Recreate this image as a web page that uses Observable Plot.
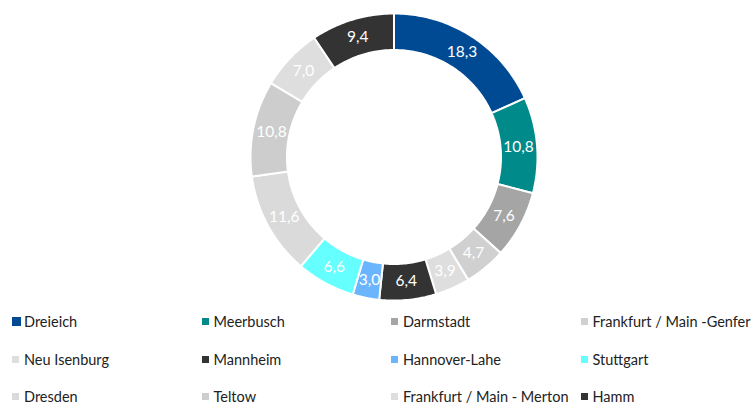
<!DOCTYPE html>
<html>
<head>
<meta charset="utf-8">
<script src="https://cdn.jsdelivr.net/npm/d3@7"></script>
<script src="https://cdn.jsdelivr.net/npm/@observablehq/plot@0.6"></script>
<style>
  html, body { margin: 0; padding: 0; background: #fff; }
  #wrap { width: 755px; height: 406px; position: relative; overflow: hidden; font-family: Lato, "Open Sans", sans-serif; }
  #legend { display: grid; grid-template-columns: repeat(4, 189.5px); grid-auto-rows: 37.5px; padding-left: 12px; }
  .item { display: flex; align-items: center; font-size: 14.5px; color: #222; white-space: nowrap; }
  .sw { width: 7px; height: 7px; margin-right: 5px; flex: none; }
</style>
</head>
<body>
<div id="wrap"><div id="chart"></div><div id="legend"></div></div>
<script>
const names = ["Dreieich", "Meerbusch", "Darmstadt", "Frankfurt / Main -Genfer", "Neu Isenburg", "Mannheim", "Hannover-Lahe", "Stuttgart", "Dresden", "Teltow", "Frankfurt / Main - Merton", "Hamm"];
const values = [18.3, 10.8, 7.6, 4.7, 3.9, 6.4, 3.0, 6.6, 11.6, 10.8, 7.0, 9.4];
const labels = ["18,3", "10,8", "7,6", "4,7", "3,9", "6,4", "3,0", "6,6", "11,6", "10,8", "7,0", "9,4"];
const colors = ["#004A94", "#008A8A", "#A5A5A5", "#D0D0D0", "#DEDEDE", "#333333", "#6BB5FF", "#66FFFF", "#DADADA", "#CDCDCD", "#DEDEDE", "#333333"];

const W = 755, H = 303, cx = 393.5, cy = 156.5;
const rOuter = 143.5, rInner = 107, rLabel = 125;
const total = d3.sum(values);

// build slice polygons from cumulative values
const polys = [];
const texts = [];
let cum = 0;
values.forEach((v, i) => {
  const a0 = cum / total * 2 * Math.PI;
  cum += v;
  const a1 = cum / total * 2 * Math.PI;
  const n = Math.max(8, Math.ceil((a1 - a0) * 60));
  const pts = [];
  for (let k = 0; k <= n; k++) {
    const a = a0 + (a1 - a0) * k / n;
    pts.push({name: names[i], x: rOuter * Math.sin(a), y: rOuter * Math.cos(a)});
  }
  for (let k = n; k >= 0; k--) {
    const a = a0 + (a1 - a0) * k / n;
    pts.push({name: names[i], x: rInner * Math.sin(a), y: rInner * Math.cos(a)});
  }
  pts.push({...pts[0]});
  polys.push(...pts);
  const am = (a0 + a1) / 2;
  texts.push({name: names[i], label: labels[i], x: rLabel * Math.sin(am), y: rLabel * Math.cos(am)});
});

const chart = Plot.plot({
  width: W,
  height: H,
  margin: 0,
  x: {domain: [-cx, W - cx], axis: null},
  y: {domain: [cy - H, cy], axis: null},
  color: {domain: names, range: colors},
  style: {background: "transparent", fontFamily: "Lato, 'Open Sans', sans-serif"},
  marks: [
    Plot.line(polys, {x: "x", y: "y", z: "name", fill: "name", stroke: "white", strokeWidth: 2, strokeLinejoin: "miter"}),
    Plot.text(texts, {x: "x", y: "y", text: "label", fill: "white", fontSize: 15.5})
  ]
});
document.getElementById("chart").appendChild(chart);

const legend = document.getElementById("legend");
names.forEach((n, i) => {
  const it = document.createElement("div");
  it.className = "item";
  const sw = document.createElement("span");
  sw.className = "sw";
  sw.style.background = colors[i];
  if (i === 0) { sw.style.width = "9px"; sw.style.height = "9px"; sw.style.marginRight = "3px"; }
  it.appendChild(sw);
  const t = document.createElement("span");
  t.textContent = n;
  it.appendChild(t);
  legend.appendChild(it);
});
</script>
</body>
</html>
